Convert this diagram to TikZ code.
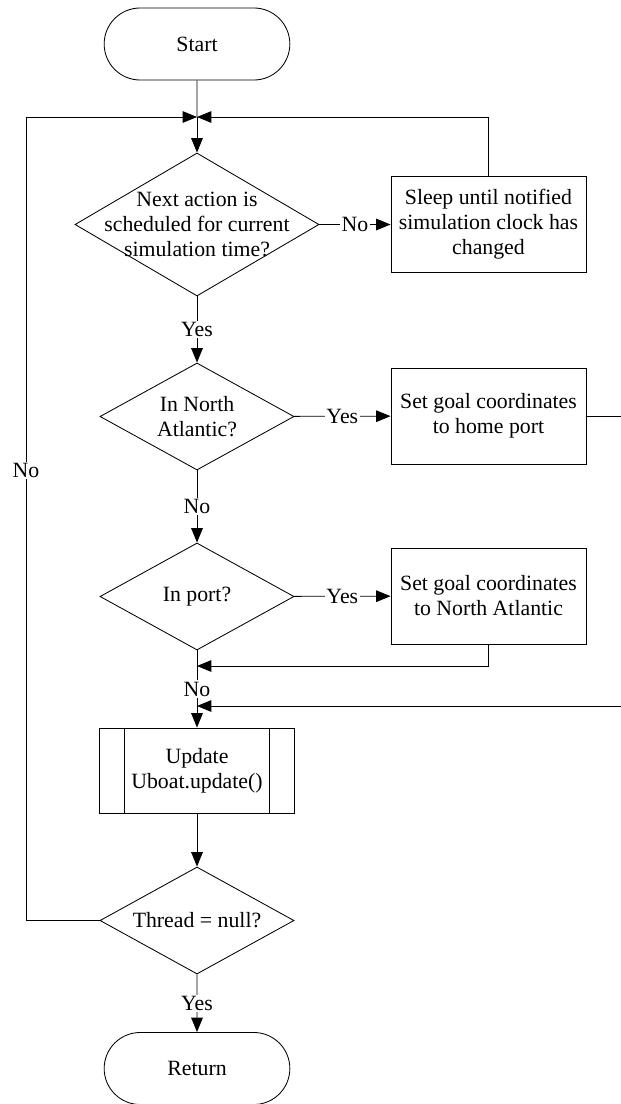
\documentclass[tikz,border=0pt]{standalone}
\usepackage{fontspec}
\setmainfont{Liberation Serif}
\usetikzlibrary{
  arrows.meta,
  shapes.misc,
  shapes.geometric,
  chains,
  scopes
}

\begin{document}
\begin{tikzpicture}[
      x=0.025cm, y=-0.025cm,
      font=\fontsize{15.5}{17.8}\selectfont,
      line width=0.6pt,
      terminal/.style={
         rounded rectangle,
         draw,
         minimum width=4.875cm,
         minimum height=1.8cm
      },
      decision/.style={
         diamond,
         draw,
         inner sep=0pt,
         minimum width=4.85cm,
         minimum height=2.675cm
      },
      process/.style={
         rectangle,
         draw,
         align=center,
         minimum width=4.875cm,
         minimum height=2.4cm
      },
      subprocess/.style={
         rectangle,
         draw,
         align=center,
         minimum width=4.875cm,
         minimum height=2.125cm,
         path picture={
            \draw ([xshift=6.25mm]path picture bounding box.north west)
               -- ([xshift=6.25mm]path picture bounding box.south west);
            \draw ([xshift=-6.25mm]path picture bounding box.north east)
               -- ([xshift=-6.25mm]path picture bounding box.south east);
         }
      },
      answer/.style={fill=white, inner sep=1pt},
      point/.style={coordinate},
      tip/.style={-{Triangle[length=3.6mm,width=2.9mm]}},
      hv path/.style={to path={-| (\tikztotarget)}},
      vh path/.style={to path={|- (\tikztotarget)}}
    ]
    \useasboundingbox (0,0) rectangle (620,1104);

    \node (start) [terminal] at (197,44) {Start};
    \node (j1) [point] at (197,117) {};
    \node (n1) [decision, minimum width=6.1cm, minimum height=3.575cm,
       label={[align=center]center:{Next action is\\scheduled for current\\simulation time?}}] at (197,224.5) {};
    \node (sleep) [process] at (488.5,224.5) {Sleep until notified\\simulation clock has\\changed};
    \node (n2) [decision, label={[align=center]center:{In North\\Atlantic?}}] at (197,416.5) {};
    \node (home) [process] at (488.5,416) {Set goal coordinates\\to home port};
    \node (r1) [point] at (626,416) {};
    \node (n3) [decision, label={center:In port?}] at (197,596.5) {};
    \node (atlantic) [process] at (488.5,596) {Set goal coordinates\\to North Atlantic};
    \node (j3) [point] at (197,666) {};
    \node (j4) [point] at (197,706) {};
    \node (update) [subprocess] at (197,770.5) {Update\\Uboat.update()};
    \node (n4) [decision, label={center:Thread = null?}] at (197,920.5) {};
    \node (l1) [point] at (26,920.5) {};
    \node (return) [terminal] at (197,1068.5) {Return};

  { [start chain]
       \chainin (start);
       \chainin (j1)     [join];
       \chainin (n1)     [join=by tip];
  }
  { [start chain]
       \chainin (sleep);
       \chainin (j1)     [join=by {vh path,tip}];
  }
  { [start chain]
       \chainin (home);
       \chainin (r1)     [join];
       \chainin (j4)     [join=by {vh path,tip}];
  }
  { [start chain]
       \chainin (atlantic);
       \chainin (j3)     [join=by {vh path,tip}];
  }
  { [start chain]
       \chainin (update);
       \chainin (n4)     [join=by tip];
  }
    \draw[tip] (n1) -- node[answer] {No} (sleep);
    \draw[tip] (n1) -- node[answer] {Yes} (n2);
    \draw[tip] (n2) -- node[answer] {Yes} (home);
    \draw[tip] (n2) -- node[answer] {No} (n3);
    \draw[tip] (n3) -- node[answer] {Yes} (atlantic);
    \draw[tip] (n3) -- node[answer] {No} (update);
    \draw[tip] (n4) -- node[answer] {Yes} (return);
    \draw[tip] (n4) -- (l1) |- node[answer, pos=0.28] {No} (j1);
\end{tikzpicture}
\end{document}
